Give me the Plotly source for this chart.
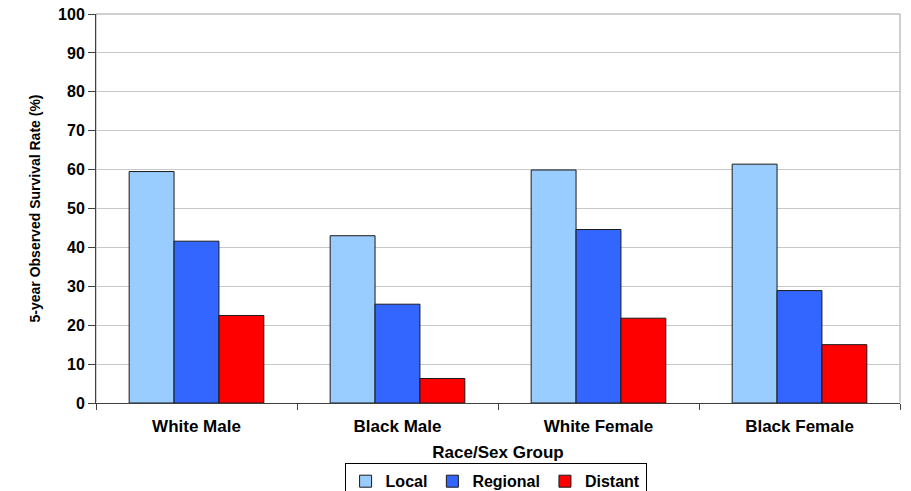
import plotly.graph_objects as go

groups = ["White Male", "Black Male", "White Female", "Black Female"]
local = [59.5, 43.0, 59.9, 61.4]
regional = [41.6, 25.4, 44.6, 28.9]
distant = [22.5, 6.3, 21.8, 15.0]

series = [("Local", local, "#99CCFF"), ("Regional", regional, "#3366FF"), ("Distant", distant, "#FF0000")]

fig = go.Figure()
for name, vals, col in series:
    fig.add_trace(go.Bar(x=groups, y=vals, name=name,
                         marker=dict(color=col, line=dict(color="#1a1a1a", width=1))))

font = "Liberation Sans, Arial, sans-serif"
fig.update_layout(
    width=911, height=491,
    margin=dict(l=96, r=11, t=14, b=88, autoexpand=False),
    plot_bgcolor="white", paper_bgcolor="white",
    barmode="group", bargap=0.33, bargroupgap=0,
    font=dict(family=font, color="black"),
    showlegend=True,
    legend=dict(orientation="h", x=0.497, xanchor="center", y=-0.155, yanchor="top",
                bordercolor="black", borderwidth=1,
                font=dict(size=16, family=font, weight="bold"),
                itemwidth=30, tracegroupgap=0),
    xaxis=dict(showline=True, linecolor="#404040", linewidth=1,
               ticks="outside", tickson="boundaries", ticklen=6, tickcolor="#404040",
               ticklabelstandoff=8,
               tickfont=dict(size=17, weight="bold"),
               title=dict(text="Race/Sex Group", font=dict(size=17, weight="bold"), standoff=10)),
    yaxis=dict(range=[0, 100], dtick=10, showline=True, linecolor="#404040", linewidth=1,
               ticks="outside", ticklen=7, tickcolor="#404040", ticklabeloverflow="allow",
               showgrid=True, gridcolor="#c8c8c8", gridwidth=1,
               tickfont=dict(size=16, weight="bold"),
               title=dict(text="5-year Observed Survival Rate (%)", font=dict(size=14, weight="bold"), standoff=14)),
    shapes=[dict(type="rect", xref="paper", yref="paper", x0=0, x1=1, y0=0, y1=1,
                 line=dict(color="#a0a0a0", width=1), layer="below")],
)
fig.write_html("out.html", config={"displayModeBar": False},
               post_script="document.body.style.margin='0';")
